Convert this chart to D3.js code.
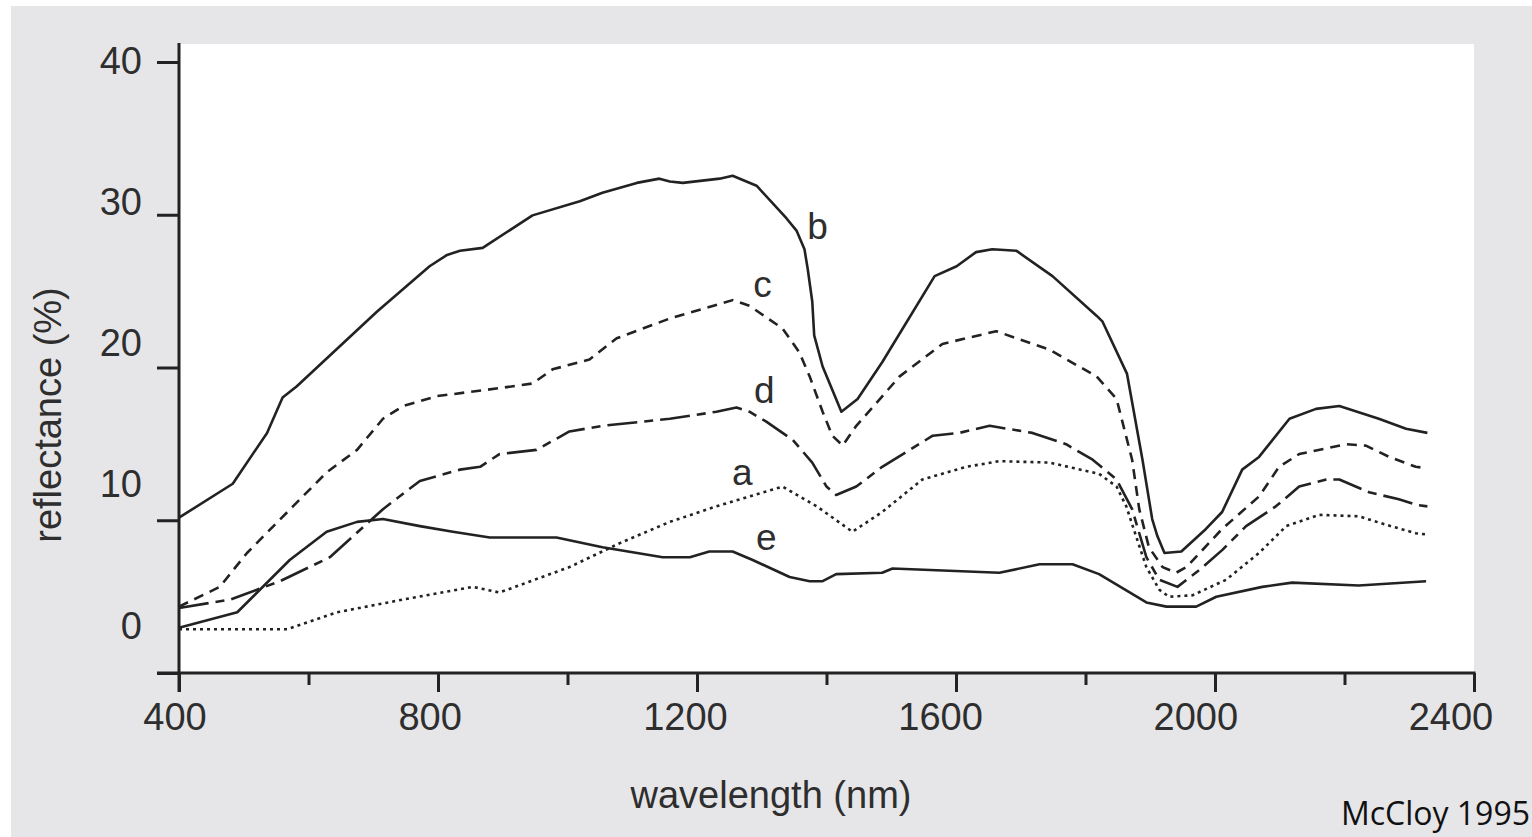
<!DOCTYPE html>
<html>
<head>
<meta charset="utf-8">
<script src="https://cdn.jsdelivr.net/npm/d3@7"></script>
<style>
  body { margin: 0; background: #ffffff; }
  svg { display: block; }
  text { font-family: "Liberation Sans", Arial, sans-serif; fill: #2e2e2e; }
</style>
</head>
<body>
<svg id="chart" width="1532" height="837"></svg>
<script>
// spectral reflectance curves, [wavelength nm, reflectance %]
const curveA = [[400,-0.3],[567,-0.3],[644,0.9],[746,1.8],[854,2.7],[895,2.3],[1003,4.1],[1081,5.8],[1158,7.3],[1230,8.4],[1332,9.8],[1385,8.4],[1440,6.6],[1486,8.0],[1548,10.3],[1616,11.2],[1667,11.6],[1744,11.5],[1821,10.7],[1848,9.8],[1863,8.4],[1878,6.3],[1894,4.1],[1914,2.5],[1929,2.0],[1965,2.1],[2017,3.2],[2068,5.1],[2110,7.0],[2161,7.8],[2222,7.7],[2264,7.1],[2310,6.5],[2328,6.4]];
const curveB = [[400,7.6],[483,10.0],[536,13.6],[560,16.1],[582,16.9],[706,22.2],[787,25.4],[814,26.2],[834,26.5],[869,26.7],[946,29.0],[1019,30.0],[1054,30.6],[1107,31.3],[1142,31.6],[1158,31.4],[1178,31.3],[1235,31.6],[1255,31.8],[1292,31.1],[1338,28.8],[1354,27.9],[1366,26.6],[1371,25.2],[1378,22.9],[1381,20.5],[1394,18.3],[1423,15.1],[1448,16.0],[1486,18.6],[1567,24.7],[1601,25.4],[1631,26.4],[1656,26.6],[1693,26.5],[1749,24.7],[1817,21.9],[1826,21.5],[1864,17.8],[1888,11.7],[1903,7.5],[1911,6.3],[1922,5.1],[1948,5.2],[1986,6.8],[2011,8.0],[2042,11.0],[2068,11.9],[2115,14.6],[2156,15.3],[2192,15.5],[2253,14.6],[2295,13.9],[2328,13.6]];
const curveC = [[400,1.3],[463,2.7],[505,5.1],[576,8.4],[628,10.8],[675,12.4],[715,14.6],[746,15.5],[798,16.2],[900,16.8],[946,17.1],[977,18.1],[1034,18.8],[1076,20.3],[1158,21.7],[1255,23.0],[1281,22.6],[1332,21.0],[1358,19.3],[1374,17.6],[1394,15.1],[1409,13.4],[1425,12.7],[1446,14.1],[1513,17.6],[1579,19.9],[1662,20.8],[1744,19.5],[1817,17.6],[1848,16.0],[1872,11.7],[1883,8.2],[1898,5.5],[1919,4.1],[1940,3.7],[1956,4.1],[2011,6.8],[2068,9.1],[2099,11.2],[2130,12.1],[2202,12.8],[2233,12.7],[2269,11.9],[2310,11.2],[2328,11.1]];
const curveD = [[400,1.2],[479,1.8],[556,3.1],[633,4.8],[715,8.2],[772,10.2],[834,11.0],[865,11.2],[895,12.1],[952,12.4],[1003,13.7],[1054,14.1],[1158,14.6],[1230,15.1],[1261,15.4],[1281,15.1],[1307,14.4],[1348,13.1],[1378,11.5],[1400,9.8],[1415,9.2],[1425,9.4],[1446,9.8],[1486,11.2],[1564,13.4],[1605,13.6],[1652,14.1],[1718,13.6],[1770,12.8],[1811,11.7],[1848,10.3],[1872,8.2],[1894,4.8],[1914,3.2],[1942,2.7],[1976,3.9],[2011,5.3],[2048,7.0],[2094,8.4],[2130,9.8],[2172,10.3],[2192,10.3],[2238,9.4],[2284,8.9],[2312,8.5],[2328,8.4]];
const curveE = [[400,-0.2],[490,0.9],[571,4.6],[628,6.6],[675,7.3],[715,7.5],[772,7.0],[823,6.6],[880,6.2],[983,6.2],[1054,5.5],[1147,4.8],[1189,4.8],[1219,5.2],[1255,5.2],[1286,4.6],[1343,3.4],[1374,3.1],[1394,3.1],[1415,3.6],[1486,3.7],[1502,4.0],[1667,3.7],[1729,4.3],[1780,4.3],[1821,3.6],[1894,1.6],[1925,1.3],[1971,1.3],[2002,2.0],[2073,2.7],[2119,3.0],[2222,2.8],[2326,3.1]];

// curve name labels, [name, wavelength, reflectance]
const curveLabels = [["b",1386,27.3],["c",1301,23.2],["d",1304,15.7],["a",1270,9.9],["e",1307,5.3]];

const xTicks = [400, 800, 1200, 1600, 2000, 2400];
const xMinorTicks = [600, 1000, 1400, 1800, 2200];
const yTicks = [0, 10, 20, 30, 40];

const svg = d3.select("#chart");

// grey page with a thin white edge top/left
svg.append("rect").attr("x", 11).attr("y", 6).attr("width", 1521).attr("height", 831).attr("fill", "#e6e6e8");

const x = d3.scaleLinear().domain([400, 2400]).range([179, 1474]);
// labels of the x axis sit slightly off the tick marks in the original
const xLabel = d3.scaleLinear().domain([400, 2400]).range([175, 1451]);
// data + y labels
const y = d3.scaleLinear().domain([0, 40]).range([625, 60]);
// the tick marks of the y axis use their own spacing
const yTick = d3.scaleLinear().domain([0, 40]).range([673, 62]);

// white plot area
svg.append("rect").attr("x", x(400)).attr("y", 44).attr("width", x(2400) - x(400)).attr("height", yTick(0) - 44).attr("fill", "#ffffff");

const axisColor = "#222";

// x axis
const gx = svg.append("g").attr("transform", `translate(0,${yTick(0)})`);
gx.call(d3.axisBottom(x).tickValues(xTicks).tickSize(19).tickSizeOuter(0).tickFormat(""));
gx.append("g").call(d3.axisBottom(x).tickValues(xMinorTicks).tickSize(12).tickSizeOuter(0).tickFormat(""))
  .select(".domain").remove();
gx.select(".domain").remove();
gx.selectAll("line").attr("stroke", axisColor).attr("stroke-width", 3);

// y axis
const gy = svg.append("g").attr("transform", `translate(${x(400)},0)`);
gy.call(d3.axisLeft(yTick).tickValues(yTicks).tickSize(22).tickSizeOuter(0).tickFormat(""));
gy.select(".domain").remove();
gy.selectAll("line").attr("stroke", axisColor).attr("stroke-width", 3);

// axis lines
svg.append("line").attr("x1", x(400) - 22).attr("x2", x(2400) + 1.5)
  .attr("y1", yTick(0)).attr("y2", yTick(0)).attr("stroke", axisColor).attr("stroke-width", 3);
svg.append("line").attr("x1", x(400)).attr("x2", x(400))
  .attr("y1", 43).attr("y2", yTick(0) + 19).attr("stroke", axisColor).attr("stroke-width", 3);

// tick labels
svg.selectAll(".xlab").data(xTicks).enter().append("text")
  .attr("class", "xlab")
  .attr("x", d => xLabel(d)).attr("y", 730)
  .attr("text-anchor", "middle").attr("font-size", 38)
  .text(d => d);

svg.selectAll(".ylab").data(yTicks).enter().append("text")
  .attr("class", "ylab")
  .attr("x", 142).attr("y", d => y(d)).attr("dy", "0.36em")
  .attr("text-anchor", "end").attr("font-size", 38)
  .text(d => d);

// axis titles
svg.append("text").attr("x", 771).attr("y", 808).attr("text-anchor", "middle").attr("font-size", 38)
  .text("wavelength (nm)");
svg.append("text").attr("transform", "translate(61,415) rotate(-90)").attr("text-anchor", "middle").attr("font-size", 38)
  .text("reflectance (%)");

// curves
const line = d3.line().x(d => x(d[0])).y(d => y(d[1]));
const series = [
  { data: curveB, dash: null },
  { data: curveC, dash: "10,7" },
  { data: curveD, dash: "30,7,9,7" },
  { data: curveA, dash: "3,4" },
  { data: curveE, dash: null }
];
series.forEach(s => {
  svg.append("path")
    .datum(s.data)
    .attr("d", line)
    .attr("fill", "none")
    .attr("stroke", "#222")
    .attr("stroke-width", 2.6)
    .attr("stroke-linejoin", "round")
    .attr("stroke-dasharray", s.dash);
});

// curve names
svg.selectAll(".clab").data(curveLabels).enter().append("text")
  .attr("class", "clab")
  .attr("x", d => x(d[1])).attr("y", d => y(d[2]))
  .attr("text-anchor", "middle").attr("font-size", 37)
  .text(d => d[0]);

// source note
svg.append("text").attr("x", 1530).attr("y", 825).attr("text-anchor", "end")
  .attr("font-size", 32).style("font-family", "'Open Sans', 'Noto Sans', sans-serif").style("fill", "#111")
  .text("McCloy 1995");
</script>
</body>
</html>
